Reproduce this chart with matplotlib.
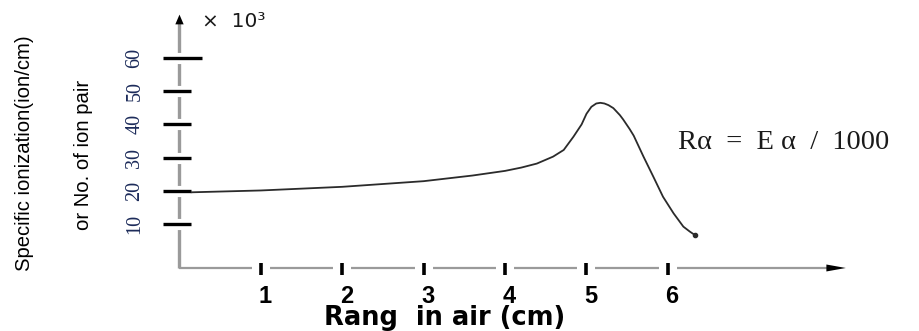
import numpy as np
import matplotlib
matplotlib.use("Agg")
import matplotlib.pyplot as plt
import matplotlib.patheffects as pe

# data (range in cm, specific ionization x 10^3)
rng = [0.15, 1.0, 2.0, 3.0, 3.6, 4.0, 4.2, 4.39, 4.59, 4.72, 4.84, 4.94,
       5.00, 5.06, 5.12, 5.17, 5.22, 5.27, 5.33, 5.41, 5.45, 5.53, 5.58,
       5.70, 5.82, 5.94, 6.07, 6.19, 6.27, 6.33]
ion = [19.55, 20.1, 21.2, 22.9, 24.6, 26.0, 27.0, 28.2, 30.3, 32.3, 36.3, 40.0,
       43.2, 45.3, 46.3, 46.5, 46.3, 45.8, 44.9, 42.8, 41.5, 38.6, 36.6,
       30.3, 24.3, 18.2, 13.2, 9.2, 7.7, 6.7]
xticks = [1, 2, 3, 4, 5, 6]
yticks = [10, 20, 30, 40, 50, 60]

fig = plt.figure(figsize=(9.2, 3.31), dpi=100)
ax = fig.add_axes([0, 0, 1, 1])
ax.set_xlim(-2.205, 9.097)
ax.set_ylim(-22.23, 77.47)
ax.axis("off")

gray = "#9a9a9a"
y0 = -3.25
# axes lines
ax.plot([0, 0], [y0, 71.5], color=gray, lw=2.4, solid_capstyle="butt", zorder=1)
ax.plot([0, 8.0], [y0, y0], color=gray, lw=1.6, solid_capstyle="butt", zorder=1)
ax.annotate("", xy=(0, 73.9), xytext=(0, 70.5),
            arrowprops=dict(arrowstyle="-|>,head_length=0.7,head_width=0.3",
                            color="black", lw=0, mutation_scale=10))
ax.annotate("", xy=(8.22, y0), xytext=(7.95, y0),
            arrowprops=dict(arrowstyle="-|>,head_length=1.4,head_width=0.25",
                            color="black", lw=0, mutation_scale=10))

halo = [pe.withStroke(linewidth=8, foreground="white", capstyle="butt")]
for v in yticks:
    right = 0.28 if v == 60 else 0.14
    ax.plot([-0.2, right], [v, v], color="black", lw=2.4, solid_capstyle="butt",
            zorder=2, path_effects=halo)
    ax.text(-0.547, v, str(v), rotation=90, ha="center", va="center",
            fontsize=14.5, family="Liberation Serif", color="#1c2b5a")

halo_x = [pe.withStroke(linewidth=13, foreground="white", capstyle="butt")]
for v in xticks:
    ax.plot([v, v], [-1.75, -5.36], color="black", lw=2.6, solid_capstyle="butt",
            zorder=2, path_effects=halo_x)
    ax.text(v + 0.05, -11.7, str(v), ha="center", va="center",
            fontsize=17, fontweight="bold", family="Liberation Sans", color="black")

# curve
ax.plot(rng, ion, color="#2b2b2b", lw=1.3, zorder=3, solid_joinstyle="round")
ax.plot(rng[-1], ion[-1], "o", color="#2b2b2b", ms=3, zorder=3)

ax.text(3.26, -18.4, "Rang  in air (cm)", ha="center", va="center",
        fontsize=18.5, fontweight="bold", family="DejaVu Sans", color="black")
ax.text(-1.90, 31.4, "Specific ionization(ion/cm)", rotation=90, ha="center",
        va="center", fontsize=14.6, family="Liberation Sans", color="black")
ax.text(-1.185, 30.8, "or No. of ion pair", rotation=90, ha="center",
        va="center", fontsize=14.6, family="Liberation Sans", color="black")
ax.text(0.276, 71.1, "\u00d7  10\u00b3", ha="left", va="center",
        fontsize=14.5, family="DejaVu Sans", color="#1a1a1a")
ax.text(6.12, 34.4, "R\u03b1  =  E \u03b1  /  1000", ha="left", va="center",
        fontsize=20.5, family=["Liberation Serif", "DejaVu Serif"], color="#1a1a1a")

fig.savefig("out.png", dpi=100)
